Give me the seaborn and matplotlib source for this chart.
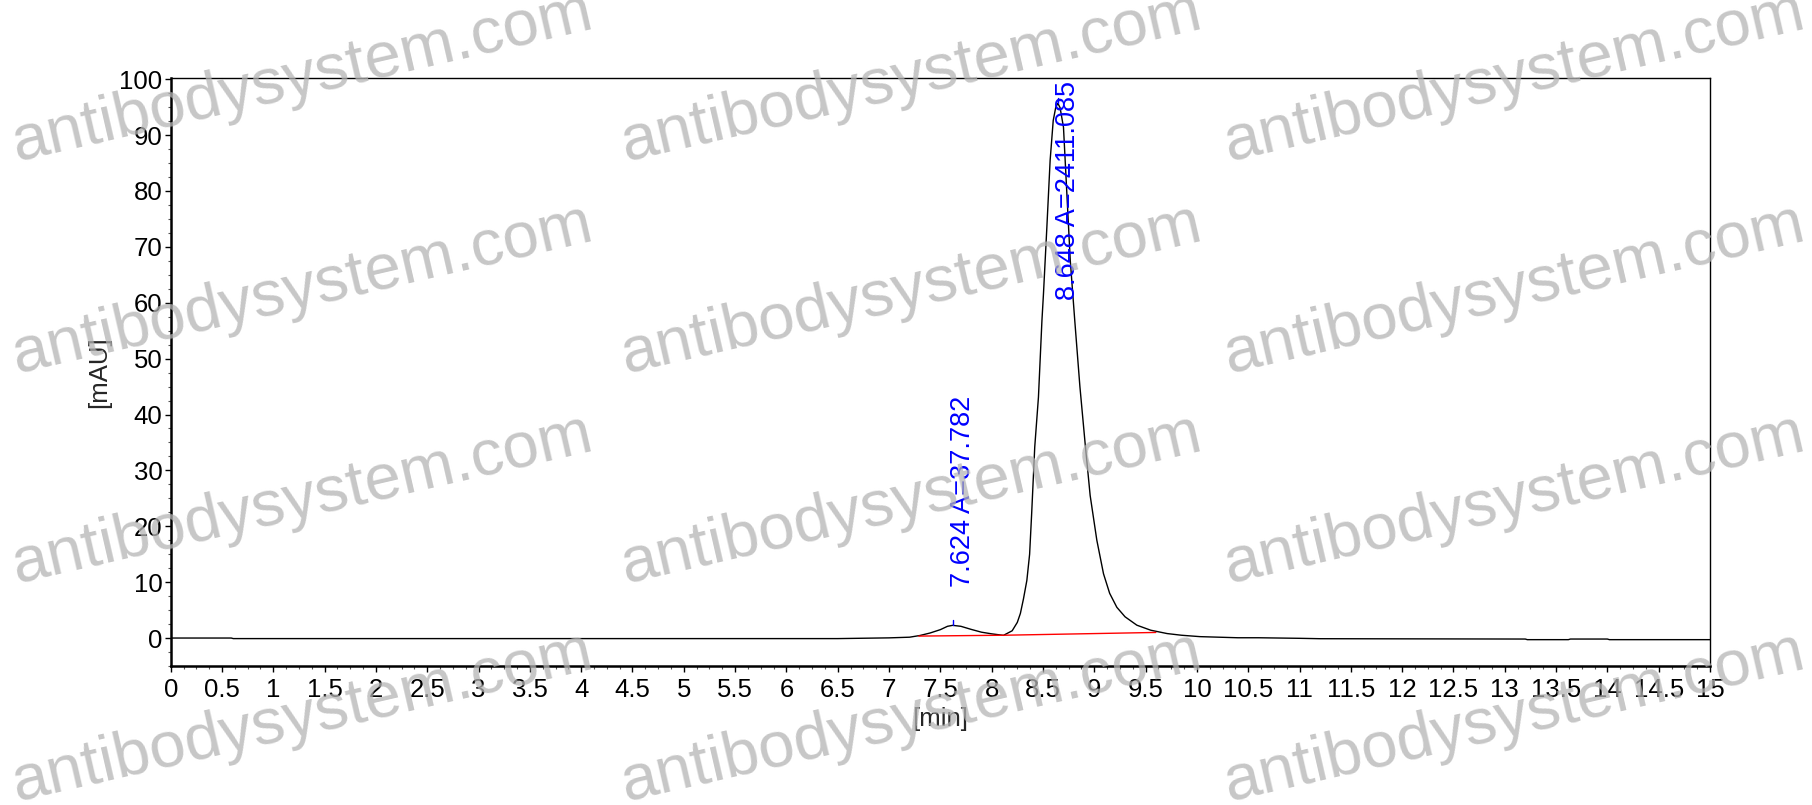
import matplotlib
matplotlib.use('Agg')
import numpy as np
import pandas as pd
import matplotlib.pyplot as plt
from matplotlib.ticker import MultipleLocator, FormatStrFormatter
import seaborn as sns

tiempo_min = [0.0, 0.59, 0.61, 3.0, 5.0, 6.5, 7.0, 7.2, 7.3, 7.4, 7.5, 7.57, 7.62,
              7.7, 7.8, 7.9, 8.0, 8.115, 8.2, 8.25, 8.28, 8.31, 8.343, 8.37, 8.39,
              8.42, 8.456, 8.49, 8.505, 8.538, 8.57, 8.60, 8.625, 8.645, 8.667,
              8.70, 8.733, 8.766, 8.81, 8.86, 8.91, 8.96, 9.025, 9.09, 9.15, 9.22,
              9.3, 9.415, 9.55, 9.71, 9.85, 10.03, 10.4, 10.6, 11.0, 11.2, 13.2,
              13.22, 13.62, 13.64, 14.0, 14.02, 15.0]
senal_mau = [0.0, 0.0, -0.1, -0.1, -0.1, -0.1, 0.03, 0.15, 0.45, 0.9, 1.5, 2.1, 2.27,
             2.1, 1.55, 1.05, 0.75, 0.48, 1.3, 2.8, 4.4, 7.0, 10.3, 15.0, 22.3,
             34.2, 43.1, 56.8, 61.6, 73.5, 85.5, 92.6, 95.0, 95.7, 94.9,
             91.4, 79.5, 67.6, 56.8, 45.0, 35.0, 25.5, 17.5, 11.5, 8.0, 5.5,
             3.8, 2.3, 1.4, 0.8, 0.5, 0.25, 0.05, 0.05, -0.05, -0.12, -0.18,
             -0.29, -0.29, -0.18, -0.18, -0.29, -0.29]

# linea base integrada (rojo)
base_t = [7.29, 8.115, 9.6]
base_y = [0.35, 0.5, 1.0]

# picos integrados
pico_rt = [7.624, 8.648]
pico_area = [37.782, 2411.085]
pico_altura = [2.27, 95.7]
etiqueta_y = [9.1, 60.4]

df = pd.DataFrame({'t': tiempo_min, 'mAU': senal_mau})
df_base = pd.DataFrame({'t': base_t, 'mAU': base_y})

sns.set_theme(style="white")
plt.rcParams['font.family'] = ['Liberation Sans', 'DejaVu Sans']

fig = plt.figure(figsize=(18.12, 8.05), dpi=100)
ax = fig.add_axes([0.0942, 0.1727, 0.8495, 0.731])

sns.lineplot(data=df, x='t', y='mAU', ax=ax, color='black', linewidth=1.0, sort=False)
sns.lineplot(data=df_base, x='t', y='mAU', ax=ax, color='red', linewidth=1.0, sort=False)

for rt, area, h, ly in zip(pico_rt, pico_area, pico_altura, etiqueta_y):
    ax.plot([rt, rt], [h, h + 0.9], color='blue', linewidth=1.0)
    ax.text(rt + 0.1, ly, f"{rt:.3f} A={area:.3f}", rotation=90, color='blue',
            ha='center', va='bottom', fontsize=19.5)

ax.set_xlim(0, 15)
ax.set_ylim(-5, 100.3)
ax.xaxis.set_major_locator(MultipleLocator(0.5))
ax.xaxis.set_minor_locator(MultipleLocator(0.125))
ax.yaxis.set_major_locator(MultipleLocator(10))
ax.yaxis.set_minor_locator(MultipleLocator(2.5))
ax.xaxis.set_major_formatter(FormatStrFormatter('%g'))
ax.yaxis.set_major_formatter(FormatStrFormatter('%g'))
ax.tick_params(axis='both', which='major', direction='out', length=4, width=1,
               labelsize=18.5, colors='black', bottom=True, left=True)
ax.tick_params(axis='x', which='major', pad=5)
ax.tick_params(axis='y', which='major', pad=2)
ax.tick_params(axis='both', which='minor', direction='out', length=2.5, width=0.8,
               bottom=True, left=True, colors='#555555')

for lado in ['top', 'right']:
    ax.spines[lado].set_linewidth(1.0)
    ax.spines[lado].set_color('black')
for lado in ['left', 'bottom']:
    ax.spines[lado].set_linewidth(1.8)
    ax.spines[lado].set_color('black')

ax.set_xlabel("[min]", fontsize=18.5, labelpad=3)
ax.set_ylabel("[mAU]", fontsize=18.5, labelpad=6)

# marca de agua
for cy in [78, 290, 500, 718]:
    for cx in [302, 911, 1514]:
        fig.text(cx / 1812, 1 - cy / 805, "antibodysystem.com", fontsize=47,
                 color='#b4b4b4', alpha=0.75, rotation=13, ha='center', va='center',
                 rotation_mode='anchor', zorder=10)

fig.savefig("out.png", dpi=100)
plt.close(fig)
